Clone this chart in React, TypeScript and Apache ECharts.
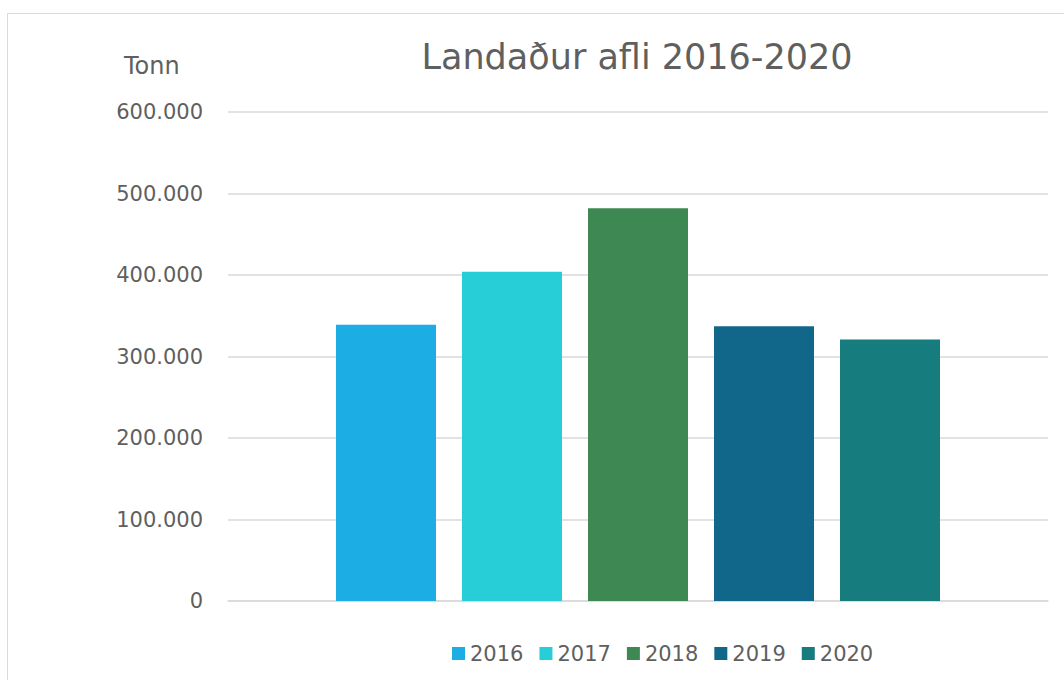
import React, { useEffect, useRef } from "react";
import * as echarts from "echarts";

const years = ["2016", "2017", "2018", "2019", "2020"];
const values = [339000, 404000, 482000, 337000, 321000];
const colors = ["#1CADE4", "#27CED7", "#3E8853", "#10678A", "#177C7E"];
const category = [""];
const titleText = "Landaður afli 2016-2020";
const unitText = "Tonn";

const FONT = "'DejaVu Sans', sans-serif";
const GRAY = "#5f5f5f";

export default function App() {
  const ref = useRef<HTMLDivElement>(null);
  useEffect(() => {
    if (!ref.current) return;
    const chart = echarts.init(ref.current, undefined, { renderer: "svg" });
    const fmt = (v: number) => {
      const s = String(Math.round(v));
      return s.replace(/\B(?=(\d{3})+(?!\d))/g, ".");
    };
    chart.setOption({
      animation: false,
      backgroundColor: "#ffffff",
      textStyle: { fontFamily: FONT },
      title: {
        text: titleText,
        left: 632,
        textAlign: "center",
        top: 34,
        textStyle: { fontFamily: FONT, fontSize: 35, fontWeight: "normal", color: GRAY },
      },
      graphic: [
        {
          type: "rect",
          shape: { x: 7.5, y: 13.5, width: 1200, height: 1000 },
          style: { fill: "none", stroke: "#d9d9d9", lineWidth: 1 },
          silent: true,
        },
        {
          type: "text",
          left: 124,
          top: 54,
          style: { text: unitText, fontFamily: FONT, fontSize: 24, fill: GRAY },
        },
      ],
      legend: {
        data: years,
        top: 638,
        left: 447,
        itemWidth: 13,
        itemHeight: 13,
        itemGap: 16,
        icon: "rect",
        textStyle: { fontFamily: FONT, fontSize: 21, color: GRAY },
      },
      grid: { left: 228, right: 16, top: 112, bottom: 79 },
      xAxis: {
        type: "category",
        data: category,
        axisLine: { show: true, lineStyle: { color: "#d9d9d9", width: 1.5 } },
        axisTick: { show: false },
        axisLabel: { show: false },
      },
      yAxis: {
        type: "value",
        min: 0,
        max: 600000,
        interval: 100000,
        axisLine: { show: false },
        axisTick: { show: false },
        splitLine: { lineStyle: { color: "#d9d9d9", width: 1.5 } },
        axisLabel: {
          formatter: fmt,
          fontFamily: FONT,
          fontSize: 21,
          color: GRAY,
          margin: 25,
        },
      },
      series: years.map((y, i) => ({
        name: y,
        type: "bar",
        data: [values[i]],
        barWidth: 100,
        barGap: "26%",
        itemStyle: { color: colors[i] },
      })),
    });
    return () => chart.dispose();
  }, []);
  return (
    <div
      ref={ref}
      style={{ position: "fixed", left: 0, top: 0, width: 1064, height: 680 }}
    />
  );
}
